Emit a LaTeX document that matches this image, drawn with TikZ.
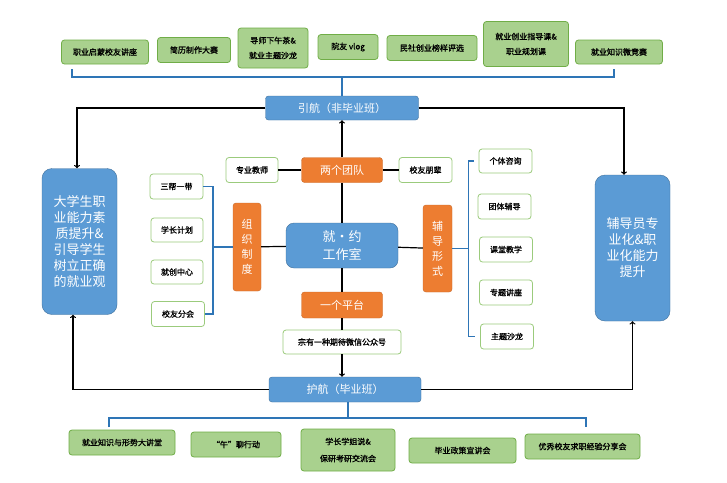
\documentclass[tikz,border=0pt]{standalone}
\usepackage{fontspec}
\setmainfont{Noto Sans CJK SC}
\newfontfamily\labelfont{Noto Sans CJK SC}[FakeBold=1.2]
\usetikzlibrary{arrows, positioning}
\definecolor{ItemFill}{HTML}{A9D18E}
\definecolor{ItemBorder}{HTML}{70AD47}
\definecolor{LeafBorder}{HTML}{9BCB7C}
\definecolor{PartFill}{HTML}{ED7D31}
\definecolor{BarFill}{HTML}{5B9BD5}
\definecolor{BarBorder}{HTML}{41719C}
\definecolor{BraceBlue}{HTML}{2E75B6}

\begin{document}
\begin{tikzpicture}[x=1pt,y=-1pt]
		\tikzstyle{Item} = [rectangle, rounded corners=3pt, inner sep=0pt, align=center, draw=ItemBorder, fill=ItemFill, line width=0.8pt, font=\labelfont\fontsize{8}{15}\selectfont]
		\tikzstyle{Leaf} = [rectangle, rounded corners=3pt, inner sep=0pt, align=center, draw=LeafBorder, fill=white, line width=0.8pt, minimum width=53pt, minimum height=25pt, font=\labelfont\fontsize{8}{10}\selectfont]
		\tikzstyle{Part} = [rectangle, rounded corners=3pt, inner sep=0pt, align=center, draw=PartFill!85!black, fill=PartFill, text=white, font=\fontsize{11}{15}\selectfont]
		\tikzstyle{Bar} = [rectangle, rounded corners=3pt, inner sep=0pt, align=center, draw=BarBorder, fill=BarFill, text=white, minimum width=153pt, minimum height=24pt, font=\fontsize{11}{13}\selectfont]
		\tikzstyle{Goal} = [rectangle, rounded corners=10pt, inner sep=0pt, align=center, draw=BarBorder, fill=BarFill, text=white, minimum width=75pt, minimum height=146pt, font=\fontsize{13}{16}\selectfont]
		\tikzstyle{arrow} = [line width=1.2pt,->,>=to]
		\tikzstyle{link} = [line width=1.2pt]
		\tikzstyle{brace} = [line width=1.5pt, BraceBlue]
		
		\useasboundingbox[fill=white] (0,0) rectangle (727,482);
		
		% top activities
		\node (t1) [Item, minimum width=87pt, minimum height=24pt] at (105,52) {职业启蒙校友讲座};
		\node (t2) [Item, minimum width=73pt, minimum height=25pt] at (194,50) {简历制作大赛};
		\node (t3) [Item, minimum width=70pt, minimum height=40pt] at (273,48) {导师下午茶\&\\就业主题沙龙};
		\node (t4) [Item, minimum width=60pt, minimum height=25pt] at (348,47) {院友 vlog};
		\node (t5) [Item, minimum width=90pt, minimum height=25pt] at (432,48) {民社创业榜样评选};
		\node (t6) [Item, minimum width=85pt, minimum height=45pt] at (526,44) {就业创业指导课\&\\职业规划课};
		\node (t7) [Item, minimum width=87pt, minimum height=24pt] at (619,52) {就业知识微竞赛};
		\coordinate (topL) at (72,69);
		\coordinate (topR) at (614,69);
		
		\node (guide) [Bar] at (342,108) {引航（非毕业班）};
		\node (escort) [Bar, minimum width=152pt, minimum height=25pt] at (345,389.5) {护航（毕业班）};
		
		\node (goalL) [Goal] at (79.5,241.5) {大学生职\\业能力素\\质提升\&\\引导学生\\树立正确\\的就业观};
		\node (goalR) [Goal] at (632.5,248) {辅导员专\\业化\&职\\业化能力\\提升};
		
		% centre
		\node (studio) [Part, fill=BarFill, draw=BarBorder, rounded corners=8pt, minimum width=112pt, minimum height=45pt, font=\fontsize{13}{18}\selectfont] at (342,245.5) {就・约\\工作室};
		\node (team) [Part, minimum width=81pt, minimum height=25pt] at (342,170) {两个团队};
		\node (org) [Part, minimum width=28pt, minimum height=88pt] at (247,247) {组\\织\\制\\度};
		\node (form) [Part, minimum width=29pt, minimum height=87pt] at (437.5,248.5) {辅\\导\\形\\式};
		\node (platform) [Part, minimum width=81pt, minimum height=26pt] at (342,305) {一个平台};
		\node (wechat) [Leaf, minimum width=118pt, minimum height=24pt] at (342,342) {宗有一种期待微信公众号};
		\node (teacher) [Leaf, minimum width=52pt] at (252,170) {专业教师};
		\node (peer) [Leaf] at (425.5,170) {校友朋辈};
		
		% left list
		\node (sb) [Leaf] at (176.5,186.5) {三帮一带};
		\node (xz) [Leaf, minimum width=52pt, minimum height=24pt] at (177,230) {学长计划};
		\node (jc) [Leaf, minimum width=52pt, minimum height=24pt] at (177,272) {就创中心};
		\node (xf) [Leaf] at (178,314) {校友分会};
		
		% right list
		\node (gt) [Leaf, minimum height=24pt] at (505.5,161) {个体咨询};
		\node (tf) [Leaf] at (504.5,206.5) {团体辅导};
		\node (kt) [Leaf] at (506,249.5) {课堂教学};
		\node (zt) [Leaf] at (506,292.5) {专题讲座};
		\node (zs) [Leaf] at (507,336.5) {主题沙龙};
		
		% bottom activities
		\node (b1) [Item, minimum width=106pt, minimum height=25pt] at (122,442.5) {就业知识与形势大讲堂};
		\node (b2) [Item, minimum width=90pt, minimum height=25pt] at (236,444.5) {“午”聊行动};
		\node (b3) [Item, minimum width=94pt, minimum height=42pt, font=\labelfont\fontsize{8}{17}\selectfont] at (348,450) {学长学姐说\&\\保研考研交流会};
		\node (b4) [Item, minimum width=107pt, minimum height=25pt] at (462.5,450.5) {毕业政策宣讲会};
		\node (b5) [Item, minimum width=115pt, minimum height=25pt] at (582.5,446.5) {优秀校友求职经验分享会};
		\coordinate (botL) at (109,427);
		\coordinate (botR) at (586,427);
		
		% brackets
		\draw[brace] (topL) -- ++(0,8) -| (topR);
		\draw[brace] (guide.north) -- ++(0,-19);
		\draw[brace] (sb.east) -| ([xshift=-20pt]org.west) |- (xf.east);
		\draw[brace] (org.west) -- ++(-20,0);
		\draw[brace] ([xshift=-5pt]gt.west) -- ++(-5,0) |- ([xshift=-5pt]zs.west);
		\draw[brace] (form.east) -- ++(17,0);
		\draw[brace] ([xshift=3pt]escort.south) -- ++(0,16);
		\draw[brace] (botL) -- ++(0,-9) -| (botR);
		
		% connectors
		\draw[link] (teacher) -- (team);
		\draw[link] (team) -- (peer);
		\draw[link] (studio) -- (team);
		\draw[link] (org) -- (studio);
		\draw[link] (studio) -- (form);
		\draw[link] (studio) -- (platform);
		\draw[link] (platform) -- (wechat);
		\draw[arrow] (team) -- (guide);
		\draw[arrow] (wechat.south) -- (wechat.south |- escort.north);
		\draw[arrow] (guide.west) -| ([xshift=-2.5pt]goalL.north);
		\draw[arrow] (guide.east) -| ([xshift=-8.5pt]goalR.north);
		\draw[arrow] (escort.west) -| ([xshift=-6.5pt]goalL.south);
		\draw[arrow] (escort.east) -| (goalR.south);
\end{tikzpicture}
\end{document}
